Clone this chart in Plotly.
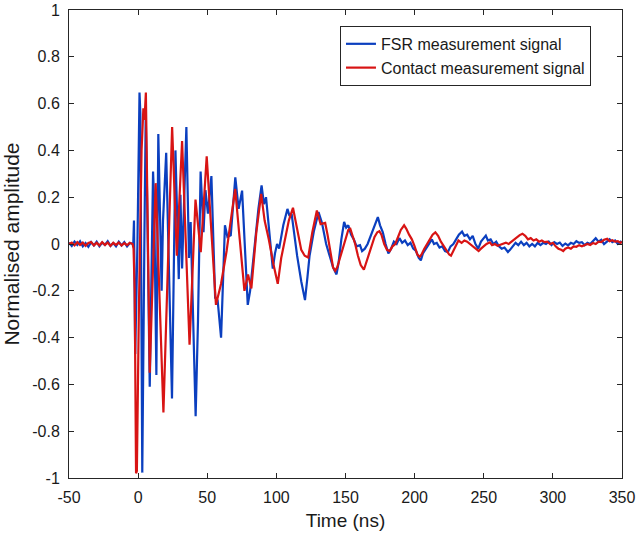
import plotly.graph_objects as go

fsr_points = [
    (-50, 0.005), (-48, -0.008), (-46, 0.01), (-44, -0.004), (-42, 0.012), (-40, -0.01), (-38, 0.004),
    (-36, -0.012), (-34, 0.008), (-32, -0.006), (-30, 0.01), (-28, -0.01), (-26, 0.006), (-24, -0.004),
    (-22, 0.012), (-20, -0.008), (-18, 0.004), (-16, -0.01), (-14, 0.01), (-12, -0.006), (-10, 0.008),
    (-8, -0.01), (-6, 0.004), (-4.5, 0.0), (-3.5, 0.0), (-3.0, 0.10), (-2.1, -0.47), (-0.5, 0.0),
    (1.0, 0.647), (1.6, 0.56), (3.0, -0.977), (4.6, 0.06), (5.5, 0.55), (6.5, 0.2), (8.4, -0.61),
    (10.8, 0.31), (11.6, 0.18), (13.2, -0.56), (14.6, 0.47), (17.0, -0.2), (18.0, 0.1), (20.3, 0.39),
    (22.3, -0.16), (24.5, -0.66), (27.0, 0.40), (29.4, -0.15), (30.6, 0.21), (31.8, -0.105), (34.9, 0.50),
    (36.8, -0.06), (38.0, 0.094), (41.6, -0.736), (43.3, -0.33), (45.2, 0.31), (47.3, 0.05), (48.7, 0.23),
    (50.5, 0.13), (53.0, 0.29), (55.7, -0.23), (57.5, -0.24), (60.0, -0.40), (62.8, 0.08), (64.6, 0.03),
    (67.0, 0.037), (70.3, 0.285), (72.7, 0.15), (75.2, 0.228), (79.3, -0.26), (81, -0.2), (83, -0.08),
    (85, 0.05), (87, 0.15), (89.3, 0.25), (91, 0.17), (92.5, 0.2), (95, 0.03), (97.4, -0.105),
    (99, -0.04), (100.5, 0.0), (102, -0.02), (105, 0.08), (108, 0.15), (109.5, 0.12), (111, 0.13),
    (113, 0.04), (115, -0.05), (118, -0.16), (120.7, -0.24), (122.5, -0.14), (124, -0.05), (127.2, 0.057),
    (130.5, 0.136), (133, 0.09), (136, 0.0), (139, -0.06), (141, -0.1), (143.5, -0.13), (145, -0.08),
    (147, 0.02), (149, 0.094), (150.5, 0.07), (152, 0.08), (154, 0.04), (156, 0.02), (158, -0.01),
    (160.5, -0.005), (162, -0.03), (164, -0.02), (166, 0.0), (168, 0.03), (170, 0.06), (172, 0.09),
    (173.4, 0.115), (175, 0.08), (177, 0.05), (179, 0.0), (181, -0.04), (183, -0.02), (185, 0.01),
    (187, 0.0), (189, 0.025), (191, 0.005), (193, 0.015), (195, -0.005), (197, 0.005), (199, -0.02),
    (201, -0.03), (203, -0.06), (204.5, -0.07), (206, -0.04), (208, -0.02), (210, 0.0), (212.5, 0.02),
    (214, 0.0), (216, 0.005), (218, -0.015), (220, -0.01), (222, -0.03), (224, -0.035), (226, -0.01),
    (228, 0.0), (230, 0.02), (232, 0.04), (234.3, 0.053), (236, 0.035), (238, 0.04), (240, 0.02),
    (242, 0.035), (244, 0.0), (246, -0.02), (248, 0.01), (250, 0.025), (251.5, 0.036), (253, 0.015),
    (255, 0.02), (257, 0.0), (259, 0.01), (261, -0.01), (263, -0.02), (265, -0.015), (267.5, -0.034),
    (269, -0.025), (271, -0.01), (273, 0.005), (275, -0.005), (277, 0.01), (279, -0.005), (281, 0.005),
    (283, -0.01), (285, 0.0), (287, -0.01), (289, 0.005), (291, -0.005), (293, 0.005), (295, 0.0),
    (297, 0.01), (299, -0.005), (301, 0.008), (303, 0.0), (305, 0.006), (307, -0.008), (309, 0.002),
    (311, -0.006), (313, 0.005), (315, 0.0), (317, 0.012), (319, 0.005), (321, 0.008), (323, -0.005),
    (325, 0.005), (327, 0.0), (329, 0.015), (331, 0.025), (333, 0.01), (335, 0.018), (337, 0.0),
    (339, 0.01), (341, 0.02), (343, 0.008), (345, 0.015), (347, 0.0), (349, 0.01), (350, 0.005),
]

# Contact measurement signal
contact_points = [
    (-50, 0.0), (-48, 0.006), (-46, -0.006), (-44, 0.008), (-42, -0.004), (-40, 0.006), (-38, -0.008),
    (-36, 0.004), (-34, 0.008), (-32, -0.006), (-30, 0.005), (-28, -0.006), (-26, 0.008), (-24, -0.004),
    (-22, 0.006), (-20, -0.008), (-18, 0.005), (-16, -0.004), (-14, 0.006), (-12, -0.006), (-10, 0.004),
    (-8, -0.005), (-6, 0.005), (-4, 0.0), (-3.3, -0.02), (-2.5, -0.2), (-1.5, -0.98), (-0.9, -0.97),
    (0.5, -0.3), (2.5, 0.4), (3.8, 0.58), (4.6, 0.53), (5.6, 0.647), (8.4, -0.55), (12.7, 0.26),
    (18.3, -0.72), (24.6, 0.50), (28.0, -0.05), (31.8, 0.44), (37.2, -0.43), (41.5, 0.19), (45.3, -0.035),
    (49.6, 0.375), (56.3, -0.26), (60, -0.17), (64, -0.03), (67, 0.1), (70.2, 0.235), (73.5, 0.02),
    (76.9, -0.2), (79.5, -0.13), (81.9, -0.19), (85.5, 0.05), (89.0, 0.214), (91.5, 0.1), (94.5, 0.02),
    (98, -0.09), (101.0, -0.17), (103.5, -0.06), (106.5, 0.02), (109, 0.1), (112, 0.155), (115, 0.06),
    (118, -0.025), (120.5, -0.05), (123, -0.058), (126, 0.05), (129.3, 0.143), (132, 0.085), (135.3, 0.09),
    (137, 0.04), (139, -0.04), (141, -0.1), (142.5, -0.115), (144, -0.1), (146, -0.06), (148, -0.02),
    (150, 0.03), (152, 0.06), (153.5, 0.065), (155, 0.04), (157, 0.0), (159, -0.05), (161, -0.09),
    (163.3, -0.11), (165, -0.08), (167, -0.04), (169, 0.0), (171, 0.03), (173, 0.05), (174.5, 0.055),
    (176, 0.04), (178, 0.0), (180, -0.025), (182, -0.03), (184, -0.01), (186, 0.0), (188, 0.03),
    (190, 0.06), (192.4, 0.08), (194, 0.065), (196, 0.04), (198, 0.02), (200, -0.01), (202, -0.045),
    (203.7, -0.055), (205, -0.045), (207, -0.02), (209, 0.0), (211, 0.02), (213, 0.04), (215, 0.05),
    (217, 0.035), (219, 0.01), (221, -0.01), (223, -0.03), (225, -0.045), (226.3, -0.05), (228, -0.03),
    (230, 0.0), (231.7, 0.015), (234, 0.005), (236, 0.015), (238, 0.01), (240, 0.0), (242, -0.01),
    (244, -0.02), (246.3, -0.03), (248, -0.02), (250, -0.01), (252, 0.0), (254.4, 0.007), (256, -0.005),
    (258, 0.0), (260, -0.008), (262, -0.003), (264, 0.0), (266, 0.006), (268, 0.0), (270, 0.01),
    (272, 0.02), (274, 0.03), (276, 0.038), (278, 0.044), (280, 0.035), (282, 0.02), (284, 0.025),
    (286, 0.015), (288, 0.02), (290, 0.01), (292, 0.015), (294, 0.008), (296, 0.01), (298, 0.0),
    (300, 0.005), (302, -0.01), (304, -0.02), (306, -0.025), (307.5, -0.03), (309, -0.02), (311, -0.015),
    (313, -0.02), (315, -0.01), (317, -0.012), (319, -0.005), (321, -0.01), (323, -0.005), (325, 0.0),
    (327, -0.004), (329, 0.004), (331, 0.0), (333, 0.01), (335, 0.008), (337, 0.018), (339.3, 0.022),
    (341, 0.012), (343, 0.016), (345, 0.01), (347, 0.012), (349, 0.005), (350, 0.01),
]

fsr_t = [p[0] for p in fsr_points]
fsr_v = [p[1] for p in fsr_points]
con_t = [p[0] for p in contact_points]
con_v = [p[1] for p in contact_points]

x_ticks = [-50, 0, 50, 100, 150, 200, 250, 300, 350]
y_ticks = [-1, -0.8, -0.6, -0.4, -0.2, 0, 0.2, 0.4, 0.6, 0.8, 1]
y_tick_text = ["-1", "-0.8", "-0.6", "-0.4", "-0.2", "0", "0.2", "0.4", "0.6", "0.8", "1"]

FONT = "Liberation Sans, Arial, sans-serif"
AX = "#262626"
TXT = "#1a1a1a"

fig = go.Figure()
fig.add_trace(go.Scatter(x=fsr_t, y=fsr_v, mode="lines", name="FSR measurement signal",
                         line=dict(color="#0b3fbf", width=2.2)))
fig.add_trace(go.Scatter(x=con_t, y=con_v, mode="lines", name="Contact measurement signal",
                         line=dict(color="#d81414", width=2.2)))

axis_common = dict(showline=True, linecolor=AX, linewidth=1, mirror="ticks", ticks="inside",
                   ticklen=5, tickcolor=AX, showgrid=False, zeroline=False, automargin=False,
                   ticklabeloverflow="allow", ticklabelstandoff=5,
                   tickfont=dict(family=FONT, size=16, color=TXT))
fig.update_xaxes(range=[-50, 350], tickvals=x_ticks, ticktext=[str(v) for v in x_ticks],
                 title=dict(text="Time (ns)", font=dict(family=FONT, size=19, color=TXT), standoff=8),
                 **axis_common)
fig.update_yaxes(range=[-1, 1], tickvals=y_ticks, ticktext=y_tick_text,
                 title=dict(text="Normalised amplitude", font=dict(family=FONT, size=21, color=TXT), standoff=6),
                 **axis_common)

fig.update_layout(
    width=637, height=541,
    margin=dict(l=69, r=15, t=10, b=63),
    paper_bgcolor="white", plot_bgcolor="white",
    showlegend=True,
    legend=dict(x=0.49, y=0.966, xanchor="left", yanchor="top",
                bgcolor="white", bordercolor=AX, borderwidth=1,
                font=dict(family=FONT, size=16, color=TXT),
                tracegroupgap=0, itemwidth=30),
)

fig.write_html("out.html")
